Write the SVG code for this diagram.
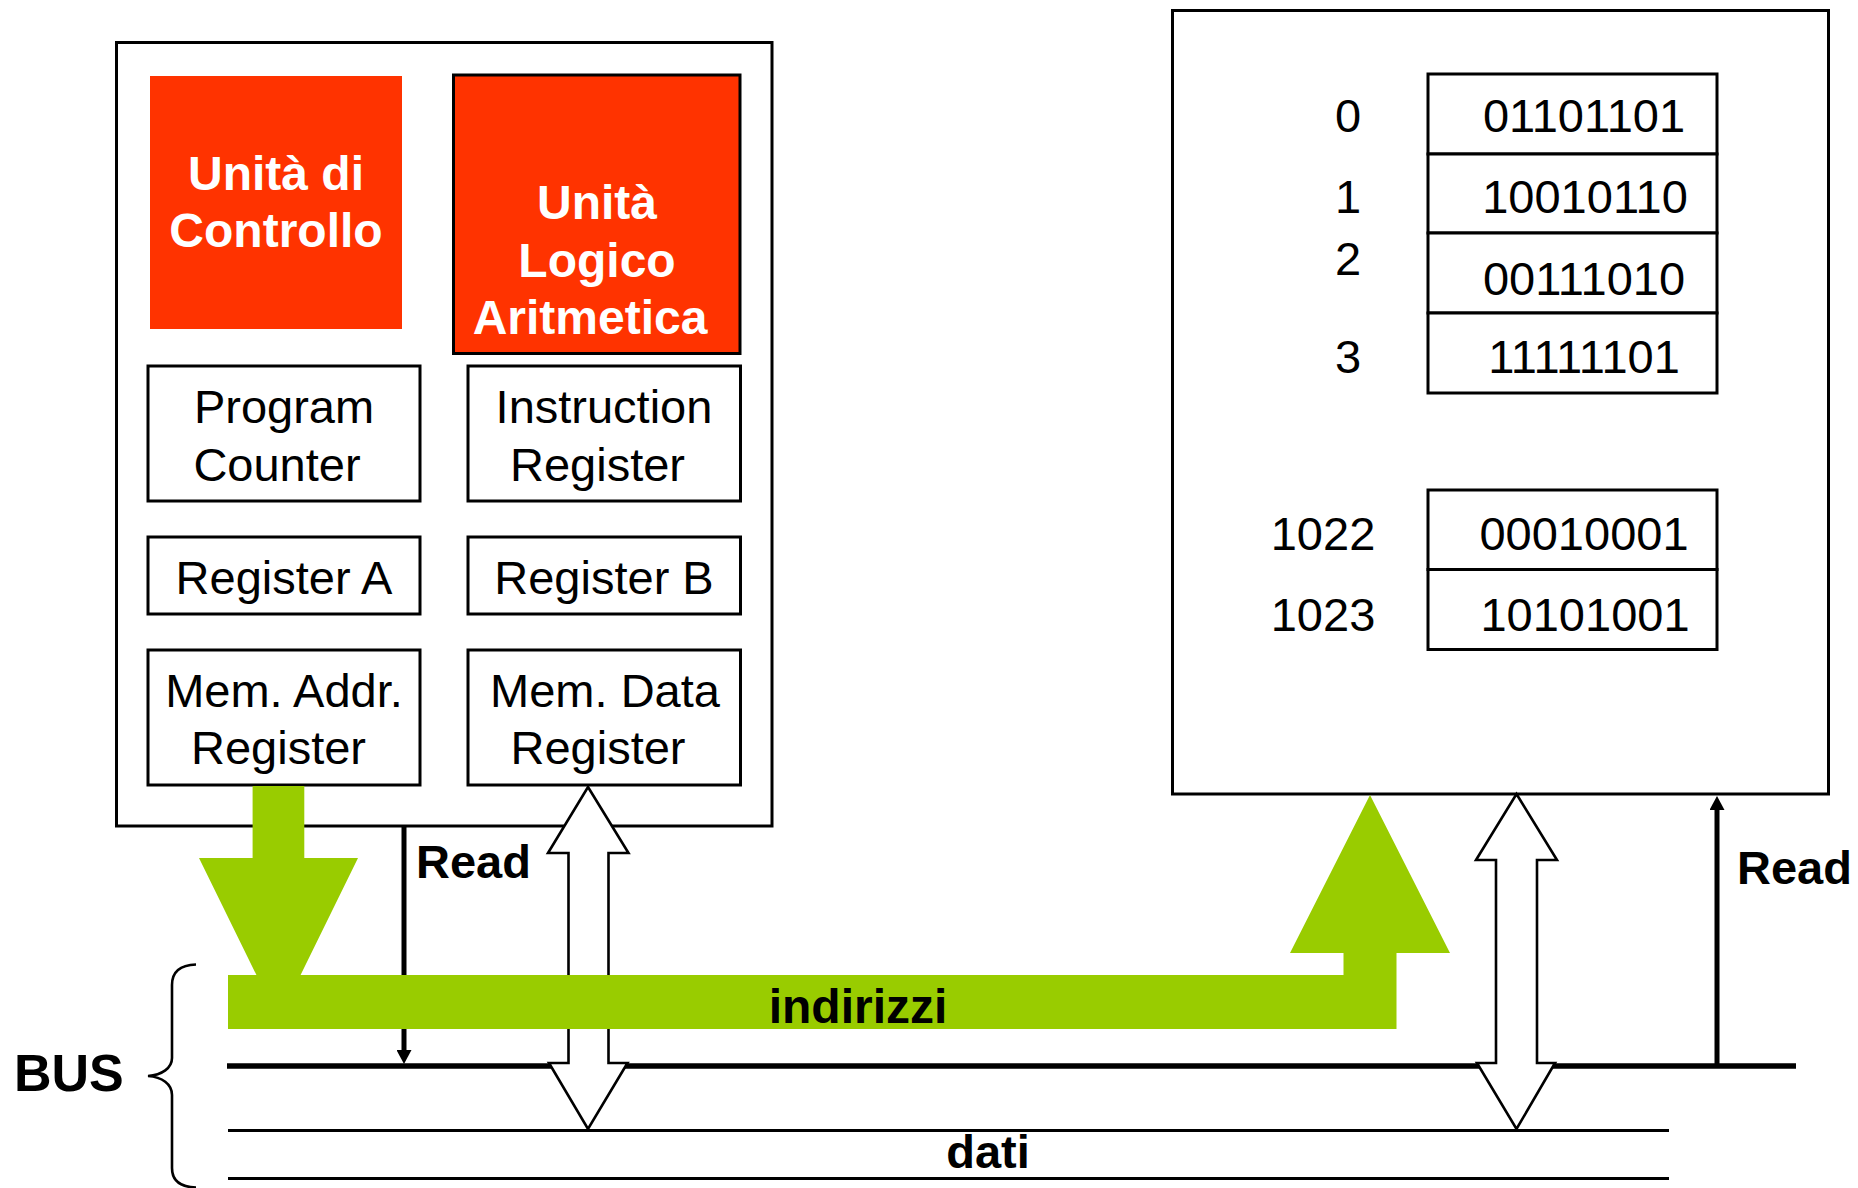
<svg xmlns="http://www.w3.org/2000/svg" width="1858" height="1188" viewBox="0 0 1858 1188">
<style>
  text { font-family: "Liberation Sans", Arial, sans-serif; fill: #000; }
  .box { fill: #fff; stroke: #000; stroke-width: 3; }
  .red { fill: #FF3300; }
  .wt { font-size: 48px; font-weight: bold; fill: #fff; text-anchor: middle; }
  .rt { font-size: 47px; text-anchor: middle; }
  .bt { font-weight: bold; font-size: 47px; }
  .green { fill: #99CC00; }
  .dbl { fill: #fff; stroke: #000; stroke-width: 2.6; stroke-linejoin: miter; }
  .wire { stroke: #000; fill: none; }
</style>
<defs>
  <marker id="ah" markerUnits="userSpaceOnUse" markerWidth="14" markerHeight="15" viewBox="0 0 14 15" refX="0" refY="7.5" orient="auto">
    <path d="M0,0 L14,7.5 L0,15 Z" fill="#000"/>
  </marker>
</defs>

<rect width="1858" height="1188" fill="#fff"/>

<g id="cpu">
  <rect class="box" x="116.5" y="42.5" width="655.5" height="783.5"/>
</g>
<g id="control-unit">
  <rect class="red" x="150" y="76" width="252" height="253"/>
  <text class="wt" x="276" y="190">Unità di</text>
  <text class="wt" x="276" y="247">Controllo</text>
</g>
<g id="alu">
  <rect class="red" x="453.5" y="75" width="286.5" height="278.5" stroke="#000" stroke-width="3"/>
  <text class="wt" x="597" y="219">Unità</text>
  <text class="wt" x="597" y="277">Logico</text>
  <text class="wt" x="590" y="334">Aritmetica</text>
</g>
<g id="program-counter">
  <rect class="box" x="148" y="366" width="272" height="135"/>
  <text class="rt" x="284" y="423">Program</text>
  <text class="rt" x="277" y="481">Counter</text>
</g>
<g id="instruction-register">
  <rect class="box" x="468" y="366" width="272.5" height="135"/>
  <text class="rt" x="604" y="423">Instruction</text>
  <text class="rt" x="597.5" y="481">Register</text>
</g>
<g id="register-a">
  <rect class="box" x="148" y="537" width="272" height="77"/>
  <text class="rt" x="284" y="594">Register A</text>
</g>
<g id="register-b">
  <rect class="box" x="468" y="537" width="272.5" height="77"/>
  <text class="rt" x="604" y="594">Register B</text>
</g>
<g id="mar">
  <rect class="box" x="148" y="650" width="272" height="135"/>
  <text class="rt" x="284" y="707">Mem. Addr.</text>
  <text class="rt" x="278.5" y="764">Register</text>
</g>
<g id="mdr">
  <rect class="box" x="468" y="650" width="272.5" height="135"/>
  <text class="rt" x="605" y="707">Mem. Data</text>
  <text class="rt" x="598" y="764">Register</text>
</g>

<g id="memory">
  <rect class="box" x="1172.5" y="10.5" width="656" height="783.5"/>
</g>
<g id="cell-0">
  <rect class="box" x="1428" y="74" width="289" height="80"/>
  <text class="rt" x="1348" y="132">0</text>
  <text class="rt" x="1584" y="132">01101101</text>
</g>
<g id="cell-1">
  <rect class="box" x="1428" y="154" width="289" height="79"/>
  <text class="rt" x="1348" y="213">1</text>
  <text class="rt" x="1585" y="213">10010110</text>
</g>
<g id="cell-2">
  <rect class="box" x="1428" y="233" width="289" height="80"/>
  <text class="rt" x="1348" y="275">2</text>
  <text class="rt" x="1584" y="295">00111010</text>
</g>
<g id="cell-3">
  <rect class="box" x="1428" y="313" width="289" height="80"/>
  <text class="rt" x="1348" y="373">3</text>
  <text class="rt" x="1584" y="373">11111101</text>
</g>
<g id="cell-1022">
  <rect class="box" x="1428" y="490" width="289" height="79.5"/>
  <text class="rt" x="1323" y="550">1022</text>
  <text class="rt" x="1584" y="550">00010001</text>
</g>
<g id="cell-1023">
  <rect class="box" x="1428" y="569.5" width="289" height="80"/>
  <text class="rt" x="1323" y="631">1023</text>
  <text class="rt" x="1585" y="631">10101001</text>
</g>

<g id="bus">
  <line class="wire" x1="227" y1="1066" x2="1796" y2="1066" stroke-width="5.5"/>
  <line class="wire" x1="228" y1="1130.5" x2="1669" y2="1130.5" stroke-width="3"/>
  <line class="wire" x1="228" y1="1178.5" x2="1669" y2="1178.5" stroke-width="3"/>
  <path class="wire" stroke-width="2.6" d="M196,964.5 C180,965 172,972 172,985 L172,1058 C172,1068 162,1075 148,1076 C162,1077 172,1084 172,1095 L172,1168 C172,1181 180,1187 196,1187.5"/>
  <text class="bt" x="14" y="1091" style="font-size:52px">BUS</text>
</g>

<g id="connectors">
  <line class="wire" x1="404" y1="826" x2="404" y2="1050" stroke-width="5" marker-end="url(#ah)"/>
  <line class="wire" x1="1717" y1="1066" x2="1717" y2="810" stroke-width="5" marker-end="url(#ah)"/>
  <path class="dbl" d="M588,787 L628.5,853 L608.5,853 L608.5,1063 L627.5,1063 L588,1129 L549,1063 L568.5,1063 L568.5,853 L548,853 Z"/>
  <path class="dbl" d="M1516.5,794 L1557,860 L1537,860 L1537,1063 L1555,1063 L1516.5,1129 L1477,1063 L1496,1063 L1496,860 L1476,860 Z"/>
  <path class="green" d="M252.6,786 L304.3,786 L304.3,858 L358,858 L278.5,1020 L199,858 L252.6,858 Z"/>
  <path class="green" d="M228,975 L1343.5,975 L1343.5,953 L1290,953 L1370,795 L1450,953 L1396.5,953 L1396.5,1029 L228,1029 Z"/>
  <text class="bt" x="858" y="1022.5" text-anchor="middle" style="font-size:48px">indirizzi</text>
  <text class="bt" x="988" y="1168" text-anchor="middle">dati</text>
  <text class="bt" x="416" y="878">Read</text>
  <text class="bt" x="1737" y="884">Read</text>
</g>
</svg>
